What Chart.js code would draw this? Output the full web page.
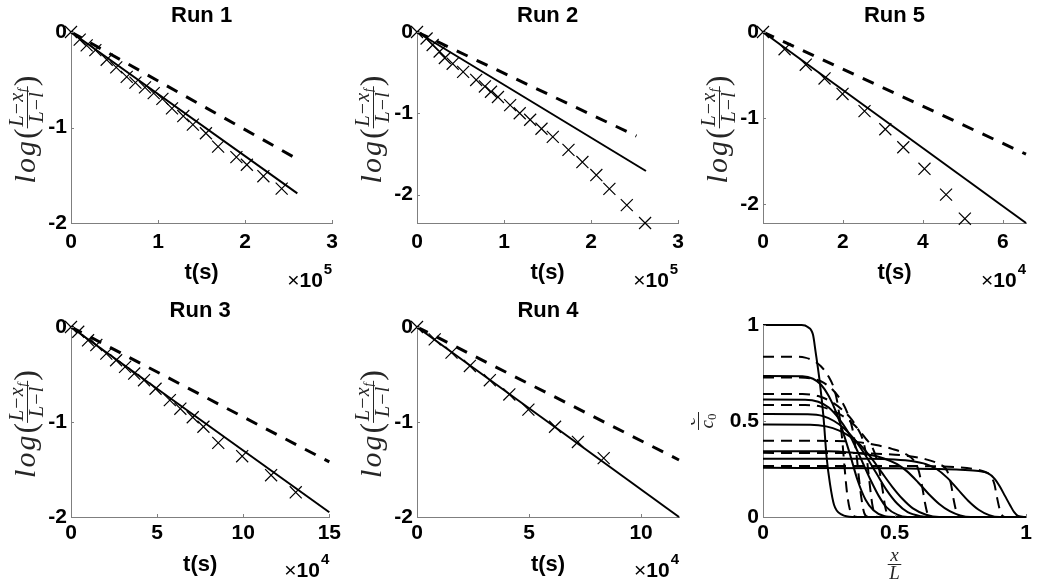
<!DOCTYPE html>
<html>
<head>
<meta charset="utf-8">
<title>Runs</title>
<script src="https://cdn.jsdelivr.net/npm/chart.js@4.4.1/dist/chart.umd.min.js"></script>
<style>
  body { margin: 0; background: #fff; }
  #fig { position: relative; width: 1037px; height: 583px; overflow: hidden; }
  #fig canvas { position: absolute; }
</style>
</head>
<body>
<div id="fig"></div>
<script>
// Run 1 (t in units of 1e5 s)
const run1T = [0, 0.10, 0.18, 0.28, 0.41, 0.52, 0.64, 0.74, 0.85, 0.95, 1.05, 1.16, 1.29, 1.40, 1.55, 1.69, 1.90, 2.02, 2.21, 2.42];
const run1Y = [0, -0.08, -0.14, -0.19, -0.29, -0.37, -0.47, -0.53, -0.58, -0.64, -0.70, -0.80, -0.88, -0.97, -1.06, -1.20, -1.31, -1.39, -1.51, -1.64];
const run1SolidT = [0, 2.60], run1SolidY = [0, -1.69];
const run1DashT = [0, 2.58], run1DashY = [0, -1.32];

// Run 2 (1e5 s)
const run2T = [0, 0.11, 0.18, 0.26, 0.32, 0.41, 0.53, 0.68, 0.78, 0.85, 0.93, 1.07, 1.18, 1.30, 1.43, 1.56, 1.74, 1.90, 2.06, 2.21, 2.41, 2.62];
const run2Y = [0, -0.08, -0.16, -0.24, -0.32, -0.39, -0.49, -0.59, -0.67, -0.735, -0.80, -0.90, -1.00, -1.08, -1.19, -1.29, -1.45, -1.60, -1.76, -1.93, -2.13, -2.35];
const run2SolidT = [0, 2.63], run2SolidY = [0, -1.71];
const run2DashT = [0, 2.52], run2DashY = [0, -1.28];

// Run 5 (1e4 s)
const run5T = [0, 0.54, 1.07, 1.54, 1.99, 2.54, 3.06, 3.51, 4.04, 4.58, 5.05];
const run5Y = [0, -0.20, -0.38, -0.54, -0.72, -0.92, -1.13, -1.34, -1.59, -1.89, -2.17];
const run5SolidT = [0, 6.58], run5SolidY = [0, -2.22];
const run5DashT = [0, 6.58], run5DashY = [0, -1.42];

// Run 3 (1e4 s)
const run3T = [0, 0.42, 0.99, 1.47, 2.05, 2.62, 3.14, 3.67, 4.24, 4.91, 5.74, 6.35, 7.07, 7.69, 8.55, 9.94, 11.62, 13.05];
const run3Y = [0, -0.05, -0.14, -0.19, -0.28, -0.35, -0.42, -0.49, -0.56, -0.65, -0.77, -0.86, -0.95, -1.05, -1.22, -1.36, -1.56, -1.74];
const run3SolidT = [0, 15], run3SolidY = [0, -1.95];
const run3DashT = [0, 15], run3DashY = [0, -1.42];

// Run 4 (1e4 s)
const run4T = [0, 0.79, 1.54, 2.36, 3.25, 4.12, 4.97, 6.16, 7.18, 8.33];
const run4Y = [0, -0.13, -0.27, -0.41, -0.56, -0.71, -0.87, -1.05, -1.21, -1.38];
const run4SolidT = [0, 11.69], run4SolidY = [0, -2.0];
const run4DashT = [0, 11.69], run4DashY = [0, -1.40];

// concentration profiles c/c0 vs x/L  ([x, y] pairs)
const solidProfiles = [
  [[0,1],[0.147,1],[0.17,0.99],[0.19,0.95],[0.20,0.86],[0.217,0.69],[0.23,0.52],[0.242,0.31],[0.255,0.17],[0.27,0.064],[0.30,0.012],[0.34,0],[1,0]],
  [[0,0.734],[0.15,0.733],[0.19,0.72],[0.22,0.69],[0.25,0.63],[0.28,0.54],[0.30,0.46],[0.33,0.33],[0.36,0.19],[0.39,0.09],[0.42,0.035],[0.46,0.005],[0.5,0],[1,0]],
  [[0,0.612],[0.16,0.611],[0.21,0.60],[0.25,0.57],[0.29,0.51],[0.32,0.45],[0.35,0.37],[0.38,0.28],[0.41,0.19],[0.44,0.11],[0.47,0.05],[0.51,0.012],[0.55,0],[1,0]],
  [[0,0.536],[0.17,0.535],[0.23,0.525],[0.27,0.50],[0.31,0.46],[0.35,0.40],[0.39,0.32],[0.43,0.23],[0.47,0.14],[0.51,0.07],[0.55,0.025],[0.60,0.004],[0.63,0],[1,0]],
  [[0,0.482],[0.18,0.481],[0.24,0.472],[0.29,0.45],[0.33,0.42],[0.37,0.375],[0.41,0.31],[0.45,0.235],[0.49,0.16],[0.53,0.095],[0.57,0.045],[0.62,0.012],[0.67,0],[1,0]],
  [[0,0.343],[0.25,0.342],[0.33,0.336],[0.40,0.325],[0.46,0.305],[0.51,0.275],[0.55,0.235],[0.59,0.18],[0.63,0.12],[0.67,0.068],[0.71,0.03],[0.75,0.008],[0.79,0],[1,0]],
  [[0,0.304],[0.40,0.303],[0.50,0.299],[0.57,0.29],[0.62,0.275],[0.66,0.25],[0.70,0.205],[0.74,0.145],[0.78,0.085],[0.82,0.038],[0.86,0.01],[0.90,0],[1,0]],
  [[0,0.256],[0.50,0.254],[0.65,0.25],[0.75,0.246],[0.82,0.24],[0.855,0.228],[0.88,0.20],[0.90,0.16],[0.92,0.11],[0.94,0.06],[0.955,0.025],[0.97,0.005],[1,0]]
];
const dashedProfiles = [
  [[0,0.835],[0.12,0.835],[0.16,0.83],[0.19,0.815],[0.22,0.785],[0.25,0.73],[0.27,0.67],[0.285,0.58],[0.30,0.42],[0.31,0.26],[0.32,0.12],[0.33,0.04],[0.345,0.005],[0.36,0],[1,0]],
  [[0,0.727],[0.14,0.727],[0.19,0.72],[0.23,0.70],[0.27,0.655],[0.30,0.60],[0.32,0.545],[0.34,0.46],[0.355,0.33],[0.365,0.20],[0.375,0.09],[0.385,0.02],[0.40,0],[1,0]],
  [[0,0.64],[0.15,0.64],[0.21,0.63],[0.26,0.60],[0.30,0.56],[0.33,0.52],[0.36,0.46],[0.38,0.40],[0.395,0.30],[0.405,0.18],[0.415,0.07],[0.425,0.015],[0.44,0],[1,0]],
  [[0,0.583],[0.16,0.583],[0.22,0.575],[0.27,0.55],[0.31,0.52],[0.35,0.475],[0.39,0.41],[0.42,0.35],[0.44,0.26],[0.455,0.14],[0.465,0.05],[0.475,0.01],[0.49,0],[1,0]],
  [[0,0.397],[0.28,0.396],[0.36,0.39],[0.43,0.375],[0.49,0.355],[0.54,0.33],[0.57,0.30],[0.59,0.25],[0.605,0.16],[0.615,0.08],[0.625,0.02],[0.64,0],[1,0]],
  [[0,0.334],[0.36,0.333],[0.46,0.328],[0.55,0.318],[0.62,0.30],[0.67,0.275],[0.70,0.24],[0.715,0.17],[0.725,0.09],[0.735,0.03],[0.75,0],[1,0]],
  [[0,0.266],[0.50,0.266],[0.65,0.264],[0.74,0.259],[0.80,0.25],[0.84,0.237],[0.865,0.215],[0.88,0.17],[0.89,0.10],[0.90,0.04],[0.91,0.008],[0.92,0],[1,0]]
];

const AXIS = '#7f7f7f';
const INK = '#262626';
const SANS = '"Liberation Sans", Arial, sans-serif';
const SERIF = '"Liberation Serif", "Times New Roman", serif';

const zip = (xs, ys) => xs.map((x, i) => ({x: x, y: ys[i]}));

// rotated log((L-x_f)/(L-l)) label, cx = position of the fraction bar
function drawLogLabel(ctx, cx, cy) {
  ctx.save();
  ctx.translate(cx, cy);
  ctx.rotate(-Math.PI / 2);
  ctx.fillStyle = INK;
  ctx.strokeStyle = INK;
  ctx.textBaseline = 'alphabetic';
  ctx.textAlign = 'left';
  const logFont = 'italic 30px ' + SERIF, parFont = '32px ' + SERIF, fr = 'italic 20px ' + SERIF, sub = 'italic 13px ' + SERIF;
  ctx.font = logFont; ctx.letterSpacing = '2px';
  const wLog = ctx.measureText('log').width;
  ctx.letterSpacing = '0px';
  ctx.font = parFont; const wPar = ctx.measureText('(').width;
  ctx.font = fr; const wNum0 = ctx.measureText('L\u2212x').width;
  ctx.font = sub; const wSub = ctx.measureText('f').width;
  const wNum = wNum0 + wSub + 1;
  ctx.font = fr; const wDen = ctx.measureText('L\u2212l').width;
  const wFrac = Math.max(wNum, wDen) + 4;
  const total = wLog + wPar * 2 + wFrac;
  let x = -total / 2;
  ctx.font = logFont; ctx.letterSpacing = '2px';
  ctx.fillText('log', x, 8); x += wLog;
  ctx.letterSpacing = '0px';
  ctx.font = parFont; ctx.fillText('(', x, 9); x += wPar;
  ctx.font = fr;
  ctx.fillText('L\u2212x', x + (wFrac - wNum) / 2, -4);
  ctx.font = sub; ctx.fillText('f', x + (wFrac - wNum) / 2 + wNum0 + 1, -1);
  ctx.font = fr; ctx.fillText('L\u2212l', x + (wFrac - wDen) / 2, 16);
  ctx.lineWidth = 1;
  ctx.beginPath(); ctx.moveTo(x, 0.5); ctx.lineTo(x + wFrac, 0.5); ctx.stroke();
  x += wFrac;
  ctx.font = parFont; ctx.fillText(')', x, 9);
  ctx.restore();
}

function drawFrac(ctx, cx, cy, num, den, rotate) {
  ctx.save();
  ctx.translate(cx, cy);
  if (rotate) ctx.rotate(-Math.PI / 2);
  ctx.fillStyle = INK; ctx.strokeStyle = INK;
  ctx.textAlign = 'left'; ctx.textBaseline = 'alphabetic';
  ctx.font = 'italic 19px ' + SERIF;
  const wn = ctx.measureText(num[0]).width;
  let wd = ctx.measureText(den[0]).width;
  ctx.font = '13px ' + SERIF;
  const ws = den[1] ? ctx.measureText(den[1]).width : 0;
  wd += ws;
  const w = Math.max(wn, wd) + 3;
  ctx.font = 'italic 19px ' + SERIF;
  ctx.fillText(num[0], -wn / 2, -3);
  ctx.fillText(den[0], -wd / 2, 15);
  if (den[1]) { ctx.font = '13px ' + SERIF; ctx.fillText(den[1], -wd / 2 + wd - ws, 18); }
  ctx.lineWidth = 1;
  ctx.beginPath(); ctx.moveTo(-w / 2, 0.5); ctx.lineTo(w / 2, 0.5); ctx.stroke();
  ctx.restore();
}

const decor = {
  id: 'decor',
  afterDraw(chart, args, o) {
    const ctx = chart.ctx, a = chart.chartArea;
    const xs = chart.scales.x, ys = chart.scales.y;
    const midX = (a.left + a.right) / 2, midY = (a.top + a.bottom) / 2;
    ctx.save();
    // inward tick marks
    ctx.strokeStyle = AXIS; ctx.lineWidth = 1;
    ctx.beginPath();
    xs.ticks.forEach(t => {
      const px = Math.round(xs.getPixelForValue(t.value)) + 0.5;
      ctx.moveTo(px, a.bottom); ctx.lineTo(px, a.bottom - 3);
    });
    ys.ticks.forEach(t => {
      const py = Math.round(ys.getPixelForValue(t.value)) + 0.5;
      ctx.moveTo(a.left, py); ctx.lineTo(a.left + 3, py);
    });
    ctx.stroke();
    ctx.fillStyle = '#000';
    ctx.textBaseline = 'alphabetic';
    if (o.title) {
      ctx.font = 'bold 22px ' + SANS; ctx.textAlign = 'center';
      ctx.fillText(o.title, midX, a.top - 10);
    }
    if (o.exp) {
      ctx.font = 'bold 22px ' + SANS; ctx.textAlign = 'center';
      ctx.fillText('t(s)', midX, a.bottom + o.xlabDy);
      ctx.font = 'bold 15px ' + SANS; ctx.textAlign = 'right';
      const we = ctx.measureText(o.exp).width;
      ctx.fillText(o.exp, a.right, a.bottom + o.expDy - 13);
      ctx.font = 'bold 21px ' + SANS;
      ctx.fillText('10', a.right - we - 1, a.bottom + o.expDy);
      const w10 = ctx.measureText('10').width;
      ctx.font = '21px ' + SANS;
      ctx.fillText('\u00d7', a.right - we - 1 - w10, a.bottom + o.expDy);
      drawLogLabel(ctx, a.left - 44, midY + 2);
    } else {
      drawFrac(ctx, midX, a.bottom + 47, ['x'], ['L'], false);
      drawFrac(ctx, a.left - 65, midY, ['c'], ['c', '0'], true);
    }
    ctx.restore();
  }
};

Chart.defaults.font.family = SANS;
Chart.defaults.color = INK;

const panels = [
  {title: 'Run 1', box: [0, 0, 345, 291], area: [71, 333, 32, 223], xMax: 3, xStep: 1, yMin: -2, exp: '5', row: 0,
   marks: zip(run1T, run1Y), solid: zip(run1SolidT, run1SolidY), dash: zip(run1DashT, run1DashY)},
  {title: 'Run 2', box: [345, 0, 346, 291], area: [417, 679, 32, 223], xMax: 3, xStep: 1, yMin: -2.35, exp: '5', row: 0,
   marks: zip(run2T, run2Y), solid: zip(run2SolidT, run2SolidY), dash: zip(run2DashT, run2DashY)},
  {title: 'Run 5', box: [691, 0, 346, 291], area: [763, 1026, 32, 223], xMax: 6.58, xStep: 2, yMin: -2.22, exp: '4', row: 0,
   marks: zip(run5T, run5Y), solid: zip(run5SolidT, run5SolidY), dash: zip(run5DashT, run5DashY)},
  {title: 'Run 3', box: [0, 291, 345, 292], area: [71, 333, 327, 517], xMax: 15, xStep: 5, yMin: -2, exp: '4', row: 1,
   marks: zip(run3T, run3Y), solid: zip(run3SolidT, run3SolidY), dash: zip(run3DashT, run3DashY)},
  {title: 'Run 4', box: [345, 291, 346, 292], area: [417, 679, 327, 517], xMax: 11.69, xStep: 5, yMin: -2, exp: '4', row: 1,
   marks: zip(run4T, run4Y), solid: zip(run4SolidT, run4SolidY), dash: zip(run4DashT, run4DashY)},
  {title: null, box: [691, 291, 346, 292], area: [763, 1026, 325, 517], xMax: 1, xStep: 0.5, yMin: 0, yMax: 1, yStep: 0.5, exp: null, row: 1}
];

const fig = document.getElementById('fig');
panels.forEach(p => {
  const [bx, by, bw, bh] = p.box;
  const [l, r, t, b] = p.area;
  const cv = document.createElement('canvas');
  cv.width = bw; cv.height = bh;
  cv.style.left = bx + 'px'; cv.style.top = by + 'px';
  fig.appendChild(cv);

  let datasets;
  if (p.exp) {
    datasets = [
      {data: p.dash, showLine: true, borderColor: '#000', borderWidth: 3, borderDash: [12, 10], pointRadius: 0, clip: false},
      {data: p.solid, showLine: true, borderColor: '#000', borderWidth: 2, pointRadius: 0, clip: false},
      {data: p.marks, showLine: false, pointStyle: 'crossRot', pointRadius: 8.5, borderColor: '#000', borderWidth: 1.2, clip: false}
    ];
  } else {
    datasets = [];
    dashedProfiles.forEach(c => datasets.push({data: c, showLine: true, borderColor: '#000', borderWidth: 2, borderDash: [11, 7],
      pointRadius: 0, cubicInterpolationMode: 'monotone', clip: false}));
    solidProfiles.forEach(c => datasets.push({data: c, showLine: true, borderColor: '#000', borderWidth: 2,
      pointRadius: 0, cubicInterpolationMode: 'monotone', clip: false}));
  }

  const tickFont = {size: 21, weight: 'bold', family: SANS};
  new Chart(cv, {
    type: 'scatter',
    data: {datasets: datasets},
    options: {
      responsive: false,
      animation: false,
      devicePixelRatio: 1,
      events: [],
      layout: {padding: {left: 0, top: t - by, right: bx + bw - r, bottom: 0}},
      plugins: {
        legend: {display: false},
        tooltip: {enabled: false},
        decor: {title: p.title, exp: p.exp, xlabDy: p.row ? 54 : 56, expDy: p.row ? 60 : 64}
      },
      scales: {
        x: {
          type: 'linear', min: 0, max: p.xMax,
          grid: {display: false, drawTicks: false},
          border: {display: true, color: AXIS, width: 1},
          ticks: {stepSize: p.xStep, includeBounds: false, padding: p.row ? 4 : 7, maxRotation: 0, autoSkip: false,
                  font: tickFont, color: '#000', callback: v => String(v)},
          afterFit: s => { s.height = by + bh - b; }
        },
        y: {
          type: 'linear', min: p.yMin, max: p.yMax !== undefined ? p.yMax : 0,
          grid: {display: false, drawTicks: false},
          border: {display: true, color: AXIS, width: 1},
          ticks: {stepSize: p.yStep || 1, includeBounds: false, padding: 4, autoSkip: false,
                  font: tickFont, color: '#000', callback: v => String(v)},
          afterFit: s => { s.width = l - bx; }
        }
      }
    },
    plugins: [decor]
  });
});
</script>
</body>
</html>
